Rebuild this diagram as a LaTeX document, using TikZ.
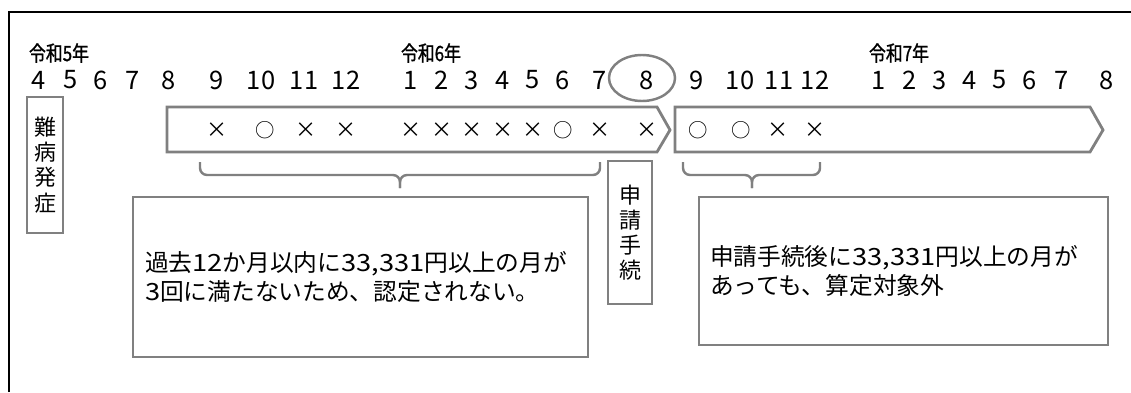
\documentclass[tikz,border=0pt]{standalone}
\usepackage{fontspec}
\setmainfont{Noto Sans CJK JP}
\newfontfamily\widenum[FakeStretch=1.15]{Noto Sans CJK JP}
\newfontfamily\yearfont[FakeStretch=0.8,FakeBold=1]{Noto Sans CJK JP}
\usepackage{tikz}
\definecolor{linegray}{RGB}{128,128,128}

\begin{document}
\begin{tikzpicture}[x=0.02cm, y=-0.02cm,
  year/.style={font=\yearfont\fontsize{12}{13}\selectfont, inner sep=0pt},
  month/.style={font=\fontsize{14.5}{15}\selectfont, inner sep=0pt},
  cross/.style={font=\fontsize{12}{13}\selectfont, inner sep=0pt},
  ring/.style={font=\fontsize{11}{12}\selectfont, inner sep=0pt},
  band/.style={draw=linegray, line width=1.6pt},
  tall/.style={draw=linegray, line width=1.6pt, inner sep=0pt, align=center, font=\fontsize{12.5}{14.3}\selectfont},
  note/.style={draw=linegray, line width=1.6pt, align=left, inner ysep=0pt, font=\fontsize{13.5}{17}\selectfont},
  brc/.style={draw=linegray, line width=1.4pt, rounded corners=4pt}]

	\useasboundingbox (0,0) rectangle (1131,392);
	\draw[line width=1.2pt] (9,392) -- (9,12) -- (1131,12);

	% years and months
	\node[year] (y5) at (59,53) {令和5年};
	\node[year] (y6) at (431,53) {令和6年};
	\node[year] (y7) at (899,53) {令和7年};
	\foreach \x/\m [count=\i] in {39/4, 71/5, 101/6, 133/7, 169/8, 217/9, 261/10, 304/11, 346/12,
		411/1, 442/2, 472/3, 503/4, 533/5, 563/6, 600/7, 647/8, 697/9, 740/10, 779/11, 815/12,
		879/1, 910/2, 940/3, 970/4, 1000/5, 1030/6, 1062/7, 1107/8}
		\node[month] (m\i) at (\x,80) {\m};
	\draw[draw=linegray, line width=1.4pt] (642,78) ellipse [x radius=33, y radius=23];

	% periods
	\draw[band] (167,107) -- (657,107) -- (670,130) -- (657,152) -- (167,152) -- cycle;
	\draw[band] (675,107) -- (1090,107) -- (1103,130) -- (1090,152) -- (675,152) -- cycle;
	\foreach \x/\s/\c [count=\i] in {217/cross/×, 265/ring/○, 306/cross/×, 346/cross/×,
		411/cross/×, 442/cross/×, 472/cross/×, 503/cross/×, 533/cross/×, 563/ring/○, 600/cross/×, 647/cross/×,
		698/ring/○, 741/ring/○, 778/cross/×, 815/cross/×}
		\node[\s] (k\i) at (\x,130) {\c};

	% braces
	\draw[brc] (200,162) -- (200,175) -- (400,175) -- (400,188);
	\draw[brc] (600,162) -- (600,175) -- (400,175) -- (400,188);
	\draw[brc] (683,162) -- (683,175) -- (752,175) -- (752,188);
	\draw[brc] (820,162) -- (820,175) -- (752,175) -- (752,188);

	\node[tall, minimum width=0.72cm, minimum height=2.72cm] (onset) at (45,165) {難\\病\\発\\症};
	\node[tall, minimum width=0.88cm, minimum height=2.86cm] (apply) at (630,232.5) {申\\請\\手\\続};

	\node[note, minimum width=9.1cm, minimum height=3.2cm, inner xsep=0.24cm, text width=8.62cm] (past) at (360.5,277)
		{過去{\widenum 12}か月以内に{\widenum 33,331}円以上の月が\\{\widenum 3}回に満たないため、認定されない。\par\vspace{0.16cm}};
	\node[note, minimum width=8.18cm, minimum height=2.96cm, inner xsep=0.22cm, text width=7.74cm] (after) at (903.5,271)
		{申請手続後に{\widenum 33,331}円以上の月が\\あっても、算定対象外};
\end{tikzpicture}
\end{document}
